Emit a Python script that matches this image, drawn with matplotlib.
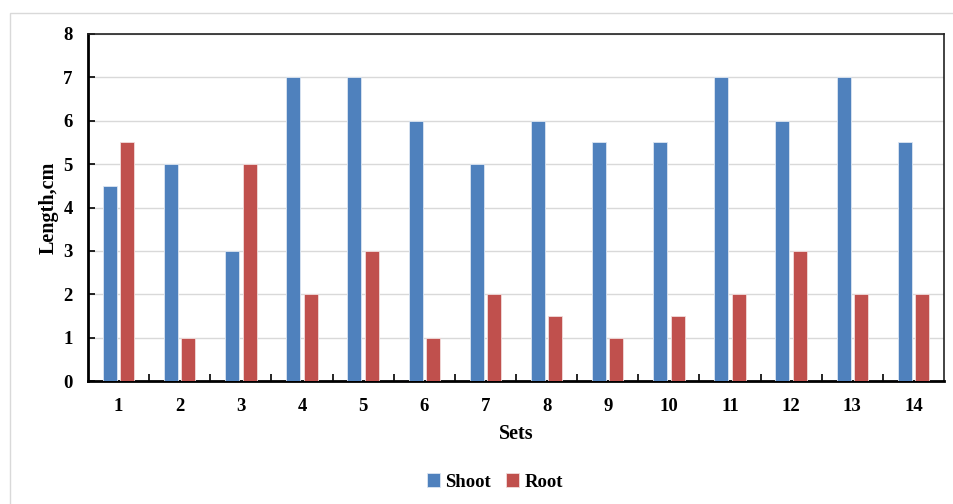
import matplotlib.pyplot as plt
import numpy as np
from matplotlib.patches import Rectangle

sets = [str(i) for i in range(1, 15)]
shoot = [4.5, 5, 3, 7, 7, 6, 5, 6, 5.5, 5.5, 7, 6, 7, 5.5]
root = [5.5, 1, 5, 2, 3, 1, 2, 1.5, 1, 1.5, 2, 3, 2, 2]

plt.rcParams['font.family'] = 'Liberation Serif'
plt.rcParams['font.weight'] = 'bold'

fig = plt.figure(figsize=(9.54, 5.04), dpi=100)
# light chart-area border
fig.patches.append(Rectangle((10 / 954, -0.1), 1.2, 1 - 13 / 504 + 0.1,
                             transform=fig.transFigure, fill=False,
                             edgecolor='#d9d9d9', linewidth=1))

ax = fig.add_axes([88 / 954, 1 - 381 / 504, (944 - 88) / 954, (381 - 34) / 504])
x = np.arange(len(sets))
w = 0.23
ax.bar(x - 0.143, shoot, w, color='#4f81bd', edgecolor='#dce6f2', linewidth=0.6,
       label='Shoot', zorder=3)
ax.bar(x + 0.143, root, w, color='#c0504d', edgecolor='#f2dcdb', linewidth=0.6,
       label='Root', zorder=3)

ax.set_xlim(-0.5, len(sets) - 0.5)
ax.set_ylim(0, 8)
ax.set_yticks(range(0, 9))
ax.yaxis.grid(True, color='#d9d9d9', linewidth=1, zorder=0)
ax.set_xticks(x)
ax.set_xticklabels(sets)
ax.set_xticks(np.arange(0.5, len(sets) - 0.5), minor=True)
ax.tick_params(axis='x', which='major', length=0, labelsize=13.5, pad=12)
ax.tick_params(axis='x', which='minor', length=5, direction='in', width=1.2)
ax.tick_params(axis='y', length=5, direction='in', width=1.2, labelsize=13.5, pad=11)

for s in ['left', 'bottom']:
    ax.spines[s].set_linewidth(2)
for s in ['top', 'right']:
    ax.spines[s].set_linewidth(1.2)
    ax.spines[s].set_color('#222222')

ax.set_xlabel('Sets', fontsize=14.5, fontweight='bold', labelpad=7)
ax.set_ylabel('Length,cm', fontsize=14.5, fontweight='bold', labelpad=3)

fig.legend(loc='center', bbox_to_anchor=(495 / 954, 1 - 482 / 504), ncol=2,
           frameon=False, fontsize=13.5, handlelength=0.7, handleheight=0.7,
           columnspacing=0.8, handletextpad=0.3)

fig.savefig('out.png', dpi=100)
